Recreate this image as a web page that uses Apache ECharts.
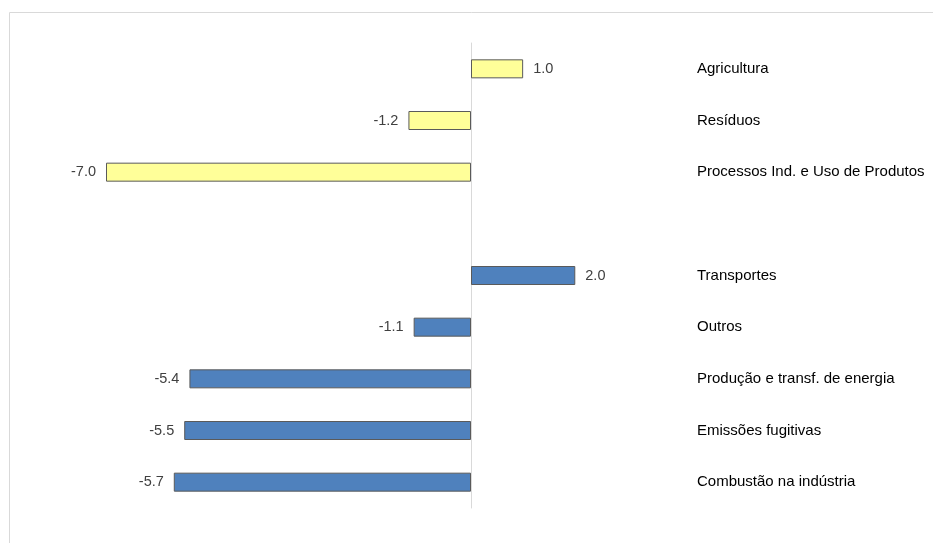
<!DOCTYPE html>
<html><head><meta charset="utf-8">
<script src="https://cdn.jsdelivr.net/npm/echarts@6/dist/echarts.min.js"></script>
<style>html,body{margin:0;padding:0;background:#fff}#c{width:933px;height:543px}</style>
</head><body><div id="c"></div>
<script>
const categories = ['Agricultura','Resíduos','Processos Ind. e Uso de Produtos','','Transportes','Outros','Produção e transf. de energia','Emissões fugitivas','Combustão na indústria'];
const values = [1.0, -1.2, -7.0, null, 2.0, -1.1, -5.4, -5.5, -5.7];
const groups = ['other','other','other','','energy','energy','energy','energy','energy'];
const groupColors = {other:'#FFFF99', energy:'#4F81BD', '':'#ffffff'};

const chart = echarts.init(document.getElementById('c'));
const data = values.map((v,i)=>({
  value: v,
  itemStyle:{color:groupColors[groups[i]], borderColor:'#5a5a5a', borderWidth:1},
  label:{position: v!=null && v<0 ? 'left':'right'}
}));
chart.setOption({
  animation:false,
  graphic:[{type:'rect', shape:{x:9.5,y:12.5,width:1000,height:1000}, style:{fill:'none', stroke:'#d9d9d9', lineWidth:1}, silent:true}],
  grid:{left:106, right:243, top:43, bottom:35},
  xAxis:{type:'value', min:-7, max:4.2, show:false},
  yAxis:[
    {type:'category', data:categories, inverse:true, position:'left',
     axisLine:{show:true, onZero:true, lineStyle:{color:'#d9d9d9'}}, axisTick:{show:false}, axisLabel:{show:false}},
    {type:'category', data:categories, inverse:true, position:'right',
     axisLine:{show:false, onZero:false}, axisTick:{show:false},
     axisLabel:{margin:7, color:'#000', fontSize:15, fontFamily:'Liberation Sans, Arial, sans-serif', align:'left'}}
  ],
  series:[{type:'bar', yAxisIndex:0, data:data, barWidth:19,
    label:{show:true, distance:10, color:'#404040', fontSize:14.5, fontFamily:'Liberation Sans, Arial, sans-serif',
      formatter:p=>p.value==null?'':Number(p.value).toFixed(1)}}]
});
</script></body></html>
